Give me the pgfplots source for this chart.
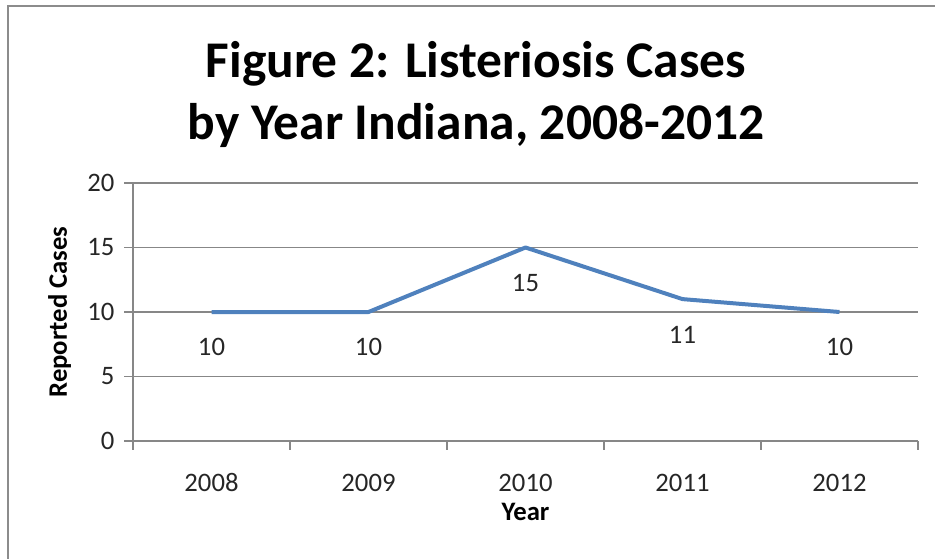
\documentclass[border=0pt]{standalone}
\usepackage{fontspec}
\setmainfont{Carlito}
\usepackage{pgfplots}
\pgfplotsset{compat=1.18}
\definecolor{linec}{RGB}{79,129,189}
\colorlet{gridc}{black!47}
\colorlet{framec}{black!45}
\begin{document}
\begin{tikzpicture}
\path[use as bounding box] (0pt,0pt) rectangle (701.25pt,418.5pt);
\draw[framec, line width=1.5pt] (6pt,-5pt) -- (6pt,414pt) -- (705pt,414pt);
\node[anchor=base, font=\bfseries\fontsize{38.6}{40}\selectfont] at (357pt,360pt) {Figure 2: Listeriosis Cases};
\node[anchor=base, font=\bfseries\fontsize{38.6}{40}\selectfont] at (357pt,313.5pt) {by Year Indiana, 2008-2012};
\begin{axis}[
  at={(99.75pt,87.75pt)}, anchor=south west,
  scale only axis, width=588.75pt, height=193.5pt,
  xmin=-0.5, xmax=4.5, ymin=0, ymax=20,
  axis lines*=left,
  axis line style={gridc, line width=0.9pt},
  xtick={-0.5,0.5,1.5,2.5,3.5,4.5},
  xticklabels={},
  x tick style={gridc, line width=0.9pt},
  extra x ticks={0,1,2,3,4},
  extra x tick labels={2008,2009,2010,2011,2012},
  extra x tick style={tick style={draw=none}},
  ytick={0,5,10,15,20},
  y tick style={gridc, line width=0.9pt},
  major tick length=6.5pt,
  tick align=outside,
  ymajorgrids, xmajorgrids=false,
  grid style={gridc, line width=0.9pt},
  tick label style={font=\fontsize{20}{22}\selectfont, black!85},
  /pgf/number format/assume math mode=true,
  xticklabel style={anchor=base, yshift=-31.5pt},
  yticklabel style={anchor=east, xshift=-4pt},
  xlabel={\bfseries Year}, ylabel={\bfseries Reported Cases},
  label style={font=\bfseries\fontsize{20}{22}\selectfont},
  xlabel style={at={(axis description cs:0.5,0)}, anchor=base, yshift=-59.5pt},
  ylabel style={at={(axis description cs:0,0.5)}, anchor=center, yshift=55pt},
  nodes near coords,
  every node near coord/.style={anchor=center, yshift=-26.5pt, font=\fontsize{20}{22}\selectfont, black!85},
  clip=false,
]
\addplot[linec, line width=3pt, line join=round] coordinates {(0,10) (1,10) (2,15) (3,11) (4,10)};
\end{axis}
\end{tikzpicture}
\end{document}
